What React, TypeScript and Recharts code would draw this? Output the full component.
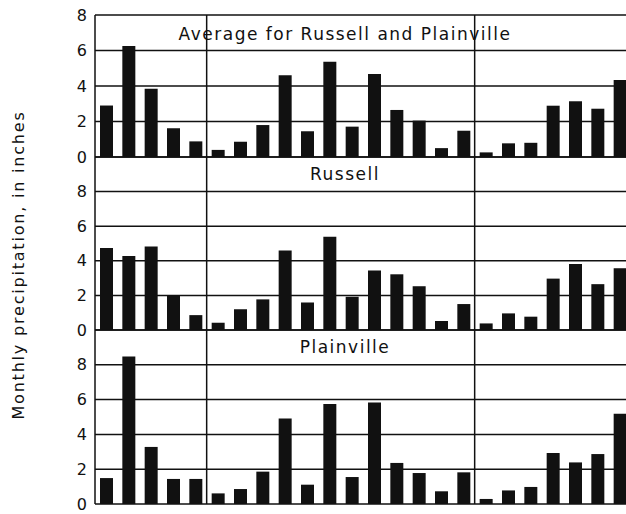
import React from 'react';
import { BarChart, Bar, XAxis, YAxis, CartesianGrid, ReferenceLine } from 'recharts';

// 24 months: Aug-Dec of year 1, all of year 2, Jan-Jul of year 3
const periods = [
  'Aug Y1', 'Sep Y1', 'Oct Y1', 'Nov Y1', 'Dec Y1',
  'Jan Y2', 'Feb Y2', 'Mar Y2', 'Apr Y2', 'May Y2', 'Jun Y2',
  'Jul Y2', 'Aug Y2', 'Sep Y2', 'Oct Y2', 'Nov Y2', 'Dec Y2',
  'Jan Y3', 'Feb Y3', 'Mar Y3', 'Apr Y3', 'May Y3', 'Jun Y3', 'Jul Y3',
];

const average = [
  2.9, 6.25, 3.85, 1.62, 0.88,
  0.4, 0.86, 1.8, 4.6, 1.45, 5.37, 1.71, 4.68, 2.65, 2.05, 0.5, 1.48,
  0.26, 0.77, 0.8, 2.89, 3.14, 2.72, 4.34,
];

const russell = [
  4.74, 4.28, 4.83, 2.0, 0.86,
  0.42, 1.2, 1.77, 4.6, 1.59, 5.39, 1.92, 3.44, 3.22, 2.53, 0.52, 1.5,
  0.38, 0.96, 0.77, 2.97, 3.82, 2.65, 3.57,
];

const plainville = [
  1.49, 8.48, 3.28, 1.44, 1.44,
  0.61, 0.86, 1.86, 4.92, 1.11, 5.75, 1.55, 5.84, 2.36, 1.78, 0.73, 1.82,
  0.29, 0.78, 0.98, 2.93, 2.39, 2.87, 5.19,
];

const yTicks = [0, 2, 4, 6, 8];

const INK = '#111';
const FONT = 'DejaVu Sans';

const toRows = (values: number[]) => periods.map((period, i) => ({ period, value: values[i] }));

type PanelProps = {
  values: number[];
  top: number;
  height: number;
  margin: { top: number; bottom: number };
  max: number;
};

function Panel({ values, top, height, margin, max }: PanelProps) {
  return (
    <div style={{ position: 'absolute', left: 0, top }}>
      <BarChart
        width={640}
        height={height}
        data={toRows(values)}
        margin={{ top: margin.top, bottom: margin.bottom, left: 0, right: 9 }}
        barSize={13}
      >
        <CartesianGrid vertical={false} stroke={INK} strokeWidth={1.5} />
        <XAxis dataKey="period" hide />
        <YAxis
          width={95}
          domain={[0, max]}
          ticks={yTicks}
          interval={0}
          tickLine={false}
          axisLine={{ stroke: INK, strokeWidth: 1.5 }}
          tick={{ fill: INK, fontSize: 16, fontFamily: FONT }}
        />
        <ReferenceLine x="Dec Y1" position="end" stroke={INK} strokeWidth={1.5} />
        <ReferenceLine x="Dec Y2" position="end" stroke={INK} strokeWidth={1.5} />
        <Bar dataKey="value" fill={INK} isAnimationActive={false} />
      </BarChart>
    </div>
  );
}

const titleStyle: React.CSSProperties = {
  position: 'absolute',
  left: 0,
  width: 690,
  textAlign: 'center',
  fontFamily: FONT,
  fontSize: 17,
  letterSpacing: 1.5,
  lineHeight: '18px',
  color: INK,
  whiteSpace: 'nowrap',
};

export default function App() {
  return (
    <div
      style={{
        position: 'absolute',
        left: 0,
        top: 0,
        width: 626,
        height: 514,
        overflow: 'hidden',
        background: '#fff',
      }}
    >
      <Panel values={average} top={0} height={172} margin={{ top: 15, bottom: 15 }} max={8} />
      <Panel values={russell} top={145} height={200} margin={{ top: 12, bottom: 15 }} max={10} />
      <Panel values={plainville} top={318} height={196} margin={{ top: 12, bottom: 10 }} max={10} />

      <div style={{ ...titleStyle, top: 25 }}>Average for Russell and Plainville</div>
      <div style={{ ...titleStyle, top: 165 }}>Russell</div>
      <div style={{ ...titleStyle, top: 338 }}>Plainville</div>

      <div
        style={{
          position: 'absolute',
          left: 18,
          top: 265,
          transform: 'translate(-50%, -50%) rotate(-90deg)',
          fontFamily: FONT,
          fontSize: 16,
          letterSpacing: 1.8,
          color: INK,
          whiteSpace: 'nowrap',
        }}
      >
        Monthly precipitation, in inches
      </div>
    </div>
  );
}
